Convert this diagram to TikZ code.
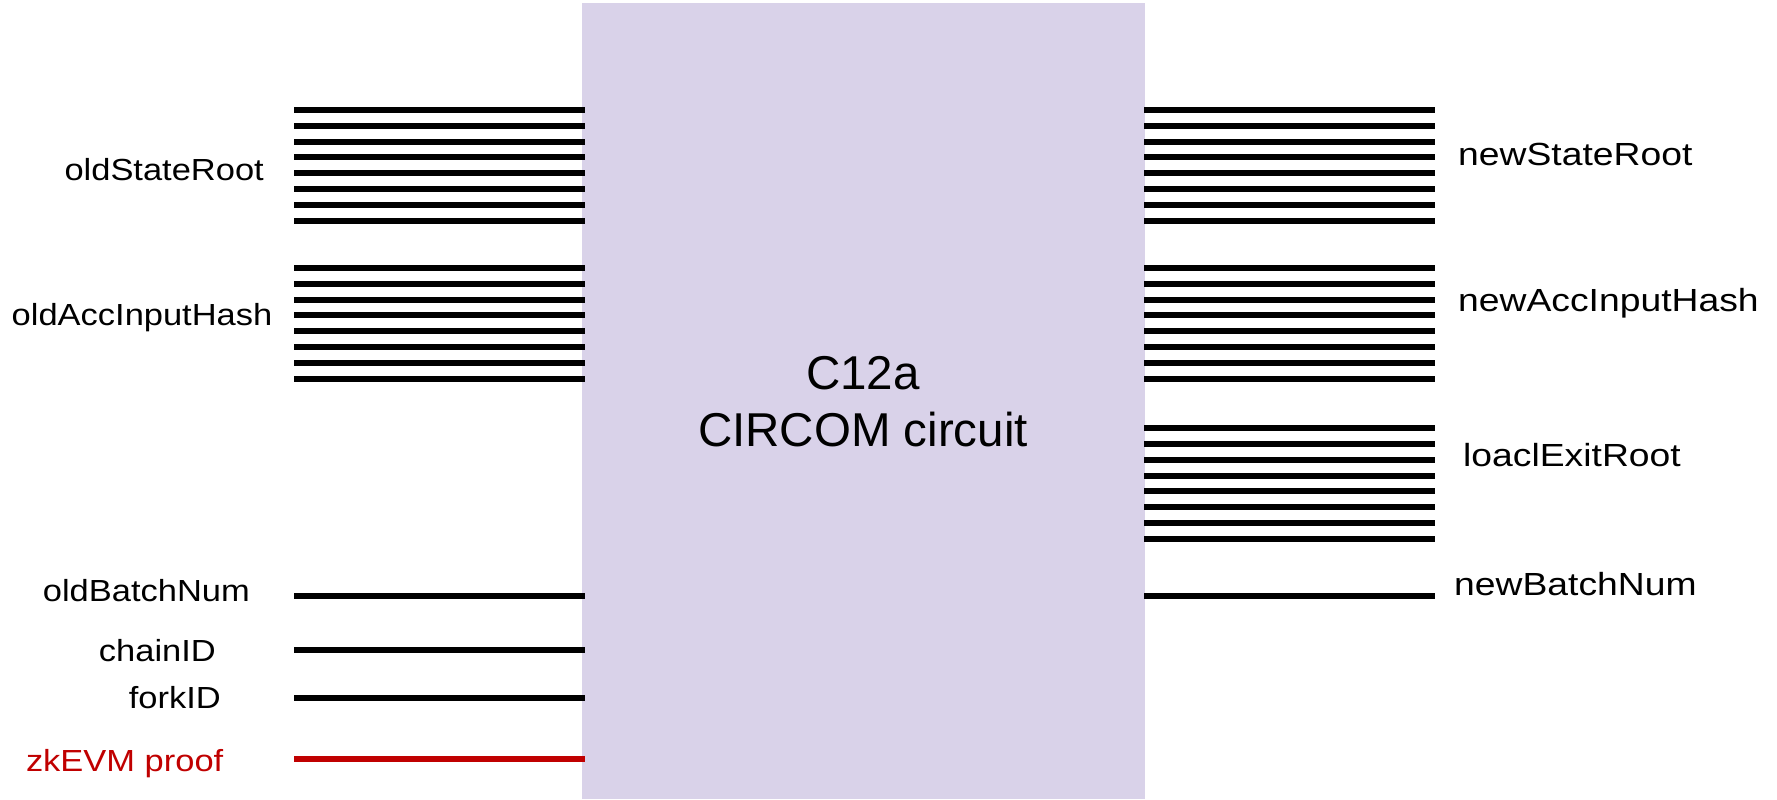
\documentclass[tikz,border=0pt]{standalone}
\usepackage{fontspec}
\setmainfont{Liberation Sans}
\usepackage{graphicx}
\definecolor{boxfill}{HTML}{D9D2E9}
\definecolor{proofred}{HTML}{C00000}
\tikzset{
  wire/.style={line width=6pt, black},
  redwire/.style={line width=6pt, proofred},
  lbl/.style={inner sep=0pt, font=\fontsize{30.5}{36}\selectfont},
  rlbl/.style={inner sep=0pt, font=\fontsize{32}{38}\selectfont},
  ttl/.style={inner sep=0pt, font=\fontsize{47.5}{56}\selectfont}
}
\newcommand{\wideText}[1]{\scalebox{1.13}[1]{#1}}
\newcommand{\wideTextR}[1]{\scalebox{1.165}[1]{#1}}
\begin{document}
\begin{tikzpicture}[x=1pt,y=-1pt]
\useasboundingbox (0,0) rectangle (1777,800);
\node[fill=boxfill, draw=none, inner sep=0pt, minimum width=563pt, minimum height=796pt, anchor=north west] (box) at (582,3) {};
% title
\node[ttl, anchor=base] (t1) at (863,389.3) {C12a};
\node[ttl, anchor=base] (t2) at (863,446.7) {CIRCOM circuit};
% wires
\foreach \k in {0,...,7}{
  \draw[wire] (294,{110+15.8*\k}) -- ([xshift=3pt]box.west |- 0,{110+15.8*\k});
  \draw[wire] (294,{268+15.8*\k}) -- ([xshift=3pt]box.west |- 0,{268+15.8*\k});
  \draw[wire] ([xshift=-1pt]box.east |- 0,{110+15.8*\k}) -- (1435,{110+15.8*\k});
  \draw[wire] ([xshift=-1pt]box.east |- 0,{268+15.8*\k}) -- (1435,{268+15.8*\k});
  \draw[wire] ([xshift=-1pt]box.east |- 0,{428+15.86*\k}) -- (1435,{428+15.86*\k});
}
\draw[wire] (294,596) -- ([xshift=3pt]box.west |- 0,596);
\draw[wire] (294,650.3) -- ([xshift=3pt]box.west |- 0,650.3);
\draw[wire] (294,698.3) -- ([xshift=3pt]box.west |- 0,698.3);
\draw[redwire] (294,759) -- ([xshift=3pt]box.west |- 0,759);
\draw[wire] ([xshift=-1pt]box.east |- 0,596) -- (1435,596);
% left labels
\node[lbl, anchor=base east] (osr) at (264,180.7) {\wideText{oldStateRoot}};
\node[lbl, anchor=base east] (oaih) at (272.5,325) {\wideText{oldAccInputHash}};
\node[lbl, anchor=base east] (obn) at (250,601.7) {\wideText{oldBatchNum}};
\node[lbl, anchor=base east] (cid) at (216,661.7) {\wideText{chainID}};
\node[lbl, anchor=base east] (fid) at (221,708.3) {\wideText{forkID}};
\node[lbl, anchor=base east, text=proofred] (zkp) at (223.5,771) {\wideText{zkEVM proof}};
% right labels
\node[rlbl, anchor=base west] (nsr) at (1458,165.7) {\wideTextR{newStateRoot}};
\node[rlbl, anchor=base west] (naih) at (1458,311.7) {\wideTextR{newAccInputHash}};
\node[rlbl, anchor=base west] (ler) at (1463,466.7) {\wideTextR{loaclExitRoot}};
\node[rlbl, anchor=base west] (nbn) at (1454,595) {\wideTextR{newBatchNum}};
\end{tikzpicture}
\end{document}
